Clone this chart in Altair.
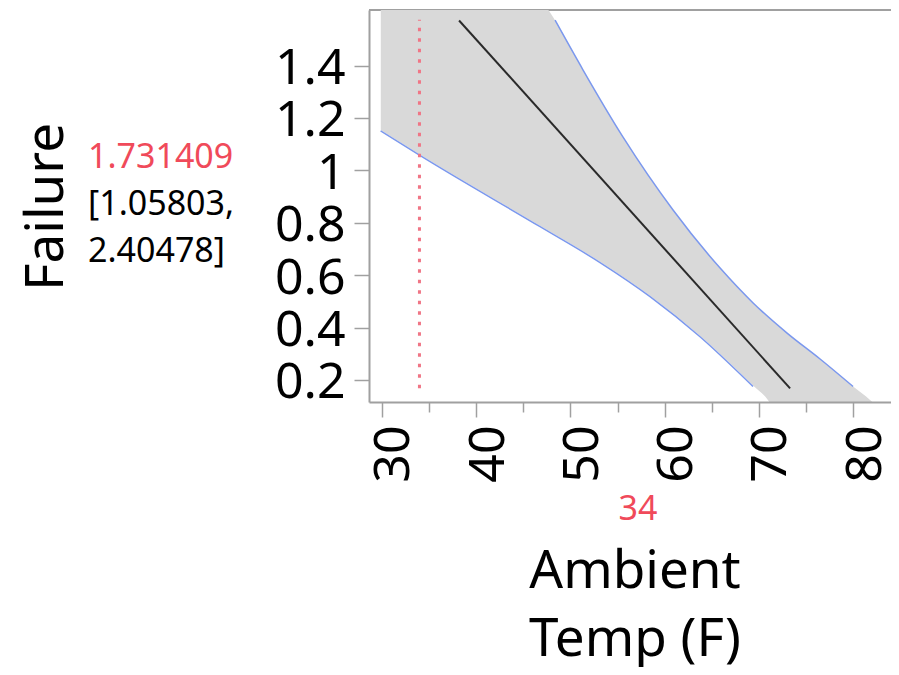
import altair as alt
import pandas as pd

# ---- data ----
upper_x = [29.9, 34.0, 40.0, 47.32, 48.38, 51.35, 55.59, 60.89, 65.88, 69.38, 72.98, 76.48, 79.98, 81.78, 82.5]
upper_y = [2.75, 2.405, 2.05, 1.631, 1.573, 1.383, 1.127, 0.849, 0.627, 0.494, 0.379, 0.280, 0.175, 0.124, 0.10]
lower_x = [29.88, 34.0, 46.79, 53.15, 58.45, 63.75, 69.37, 70.96, 72.5, 82.5]
lower_y = [1.151, 1.058, 0.785, 0.648, 0.518, 0.365, 0.175, 0.118, 0.0, -0.6]
fit_x = [38.2, 73.3]
fit_y = [1.572, 0.168]
current_x = [34]
profile_range = [0.168, 1.575]
pred_text = ["1.731409"]
ci_text = ["[1.05803,", "2.40478]"]
x_major = [30, 40, 50, 60, 70, 80]
x_minor = [35, 45, 55, 65, 75]
y_ticks = [0.2, 0.4, 0.6, 0.8, 1.0, 1.2, 1.4]
x_title = ["Ambient", "Temp (F)"]
y_title = "Failure"

FONT = "Noto Sans"
W, H = 522, 392
GRAY = "#a0a0a0"
RED = "#f04a5a"

up_df = pd.DataFrame({"x": upper_x, "y": upper_y})
lo_df = pd.DataFrame({"x": lower_x, "y": lower_y})
fit_df = pd.DataFrame({"x": fit_x, "y": fit_y})
cur_df = pd.DataFrame({"x": current_x, "y": [profile_range[0]], "y2": [profile_range[1]],
                       "lab": [str(current_x[0])]})
one = pd.DataFrame({"a": [0]})

xs = alt.Scale(domain=[28.65, 84.0], nice=False, zero=False)
ys = alt.Scale(domain=[0.116, 1.612], nice=False, zero=False)

line_filter = f"datum.y >= {profile_range[0] - 0.01} && datum.y <= {profile_range[1] + 0.005}"

minor_axis = alt.Axis(orient="bottom", values=x_minor, tickSize=10, labels=False, domain=False,
                      tickColor=GRAY, tickWidth=1.5, title=None, grid=False, zindex=1)
major_axis = alt.Axis(orient="bottom", values=x_major, tickSize=15, labelAngle=270, labelFontSize=50,
                      labelFont=FONT, labelColor="black", labelPadding=8, labelOffset=12,
                      domainColor=GRAY, domainWidth=2, tickColor=GRAY, tickWidth=1.5,
                      title=None, grid=False, zindex=1)
y_axis = alt.Axis(values=y_ticks, format="~g", tickSize=15, labelFontSize=50, labelFont=FONT,
                  labelColor="black", labelPadding=9, labelOffset=3, domainColor=GRAY, domainWidth=2,
                  tickColor=GRAY, tickWidth=1.5, title=None, grid=False, zindex=1)


def yenc(field="y:Q"):
    return alt.Y(field, scale=ys, axis=y_axis)


top_border = alt.Chart(one).mark_rule(color=GRAY, strokeWidth=2).encode(
    x=alt.value(0), x2=alt.value(W), y=alt.value(0))

gray_area = alt.Chart(up_df).mark_area(color="#d9d9d9", clip=True, interpolate="monotone").encode(
    x=alt.X("x:Q", scale=xs, axis=minor_axis), y=yenc())

white_area = alt.Chart(lo_df).mark_area(color="white", stroke="white", strokeWidth=1.5, clip=True,
                                        interpolate="monotone").encode(
    x=alt.X("x:Q", scale=xs, axis=None), y=yenc())

upper_line = alt.Chart(up_df).transform_filter(line_filter).mark_line(
    color="#7b98ee", strokeWidth=1.5, clip=True, interpolate="monotone").encode(
    x=alt.X("x:Q", scale=xs, axis=None), y=yenc())

lower_line = alt.Chart(lo_df).transform_filter(line_filter).mark_line(
    color="#7b98ee", strokeWidth=1.5, clip=True, interpolate="monotone").encode(
    x=alt.X("x:Q", scale=xs, axis=None), y=yenc())

fit_line = alt.Chart(fit_df).mark_line(color="#2a2a2a", strokeWidth=2, clip=True).encode(
    x=alt.X("x:Q", scale=xs, axis=None), y=yenc())

cur_rule = alt.Chart(cur_df).mark_rule(color="#f07585", strokeWidth=3, strokeDash=[3.5, 7]).encode(
    x=alt.X("x:Q", scale=xs, axis=major_axis), y=yenc(), y2="y2:Q")

cur_label = alt.Chart(cur_df).mark_text(color=RED, fontSize=34, font=FONT, align="center",
                                        baseline="alphabetic").encode(
    x=alt.value(269), y=alt.value(510), text="lab:N")

x_title_mark = alt.Chart(one).mark_text(fontSize=53, font=FONT, align="center", baseline="alphabetic",
                                        lineHeight=68, color="black").encode(
    x=alt.value(266), y=alt.value(578), text=alt.value(x_title))

y_title_mark = alt.Chart(one).mark_text(fontSize=53, font=FONT, align="center", baseline="alphabetic",
                                        angle=270, color="black").encode(
    x=alt.value(-306), y=alt.value(197), text=alt.value(y_title))

pred_mark = alt.Chart(one).mark_text(fontSize=34, font=FONT, align="left", baseline="alphabetic",
                                     color=RED).encode(
    x=alt.value(-281), y=alt.value(158), text=alt.value(pred_text[0]))

ci_mark = alt.Chart(one).mark_text(fontSize=34, font=FONT, align="left", baseline="alphabetic",
                                   lineHeight=47, color="black").encode(
    x=alt.value(-281), y=alt.value(205), text=alt.value(ci_text))

chart = alt.layer(
    top_border, gray_area, white_area, upper_line, lower_line, fit_line, cur_rule,
    cur_label, x_title_mark, y_title_mark, pred_mark, ci_mark
).resolve_axis(x="independent").properties(
    width=W, height=H,
    padding={"left": 361, "top": 2, "right": 0, "bottom": 265},
    autosize=alt.AutoSizeParams(type="none"),
).configure_view(stroke=None)

chart.save("out.html", embed_options={"renderer": "svg", "actions": False})
